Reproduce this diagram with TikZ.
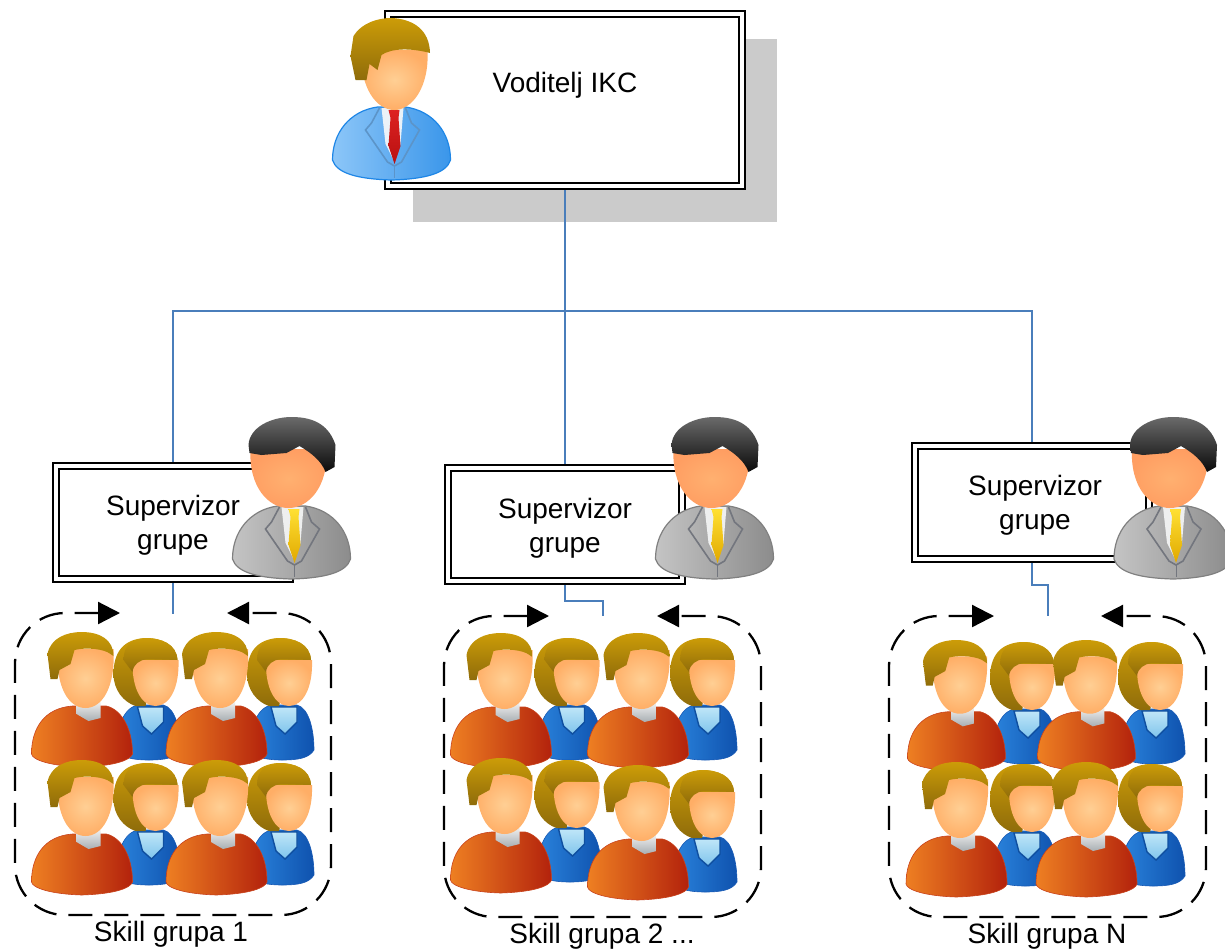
\documentclass[tikz,border=0pt]{standalone}
\usepackage{fontspec}
\setmainfont{Liberation Sans}
\usetikzlibrary{arrows.meta}
\definecolor{linkblue}{HTML}{4A7EBB}
\definecolor{shadowgray}{HTML}{CBCBCB}
\definecolor{hairA}{HTML}{CC9C08}
\definecolor{hairB}{HTML}{8F6C0A}
\definecolor{skinA}{HTML}{FFCF94}
\definecolor{skinB}{HTML}{FFAE66}
\definecolor{manL}{HTML}{EE7F22}
\definecolor{manM}{HTML}{D9561A}
\definecolor{manR}{HTML}{B3220C}
\definecolor{manE}{HTML}{C8421C}
\definecolor{collarT}{HTML}{EEEEEE}
\definecolor{collarB}{HTML}{A8AEB2}
\definecolor{womL}{HTML}{2A83DC}
\definecolor{womR}{HTML}{0F52AE}
\definecolor{womE}{HTML}{1658B4}
\definecolor{vT}{HTML}{BFE6F8}
\definecolor{vB}{HTML}{7FC4EC}
\definecolor{vE}{HTML}{0F4FA0}
\definecolor{bossL}{HTML}{8CC6F8}
\definecolor{bossR}{HTML}{3A96EA}
\definecolor{bossE}{HTML}{1E86E6}
\definecolor{bossLap}{HTML}{5C94C8}
\definecolor{tieRT}{HTML}{DD2222}
\definecolor{tieRB}{HTML}{B81010}
\definecolor{supL}{HTML}{C4C4C4}
\definecolor{supR}{HTML}{8C8C8C}
\definecolor{supE}{HTML}{808080}
\definecolor{supLap}{HTML}{73767E}
\definecolor{tieYT}{HTML}{FFE033}
\definecolor{tieYB}{HTML}{E0A800}
\definecolor{supSkinA}{HTML}{FFB070}
\definecolor{supSkinB}{HTML}{FF9E62}
\definecolor{supHT}{HTML}{6A6A6A}
\definecolor{supHB}{HTML}{0A0A0A}
\tikzset{
  dblbox/.style={draw=black,double=white,line width=1.9pt,double distance=3.9pt,outer sep=3.85pt,inner sep=0pt,rectangle},
  lbl/.style={font=\fontsize{28}{34}\selectfont,align=center,inner sep=0pt,text=black},
  link/.style={draw=linkblue,line width=2.4pt},
  teamloop/.style={draw=black,line width=2.3pt,dash pattern=on 24pt off 12pt,rounded corners=50pt,
     {Triangle[length=22pt,width=22pt]}-{Triangle[length=22pt,width=22pt]}},
}
% man: #1 x centre of hair, #2 y top, #3 scale
\newcommand{\manfig}[3]{\begin{scope}[shift={(#1,#2)},scale=#3]
  \shade[left color=manL,middle color=manM,right color=manR,draw=manE,line width=.6pt]
    (-49,122) .. controls (-49,96) and (-36,76) .. (-8,74) -- (26,74)
    .. controls (42,78) and (52,98) .. (52,122)
    .. controls (50,128) and (35,134) .. (1,135) .. controls (-30,134) and (-48,128) .. (-49,122) -- cycle;
  \shade[top color=collarT,bottom color=collarB] (-4,70) -- (20,70) -- (20,86) -- (8,89) -- (-4,82) -- cycle;
  \shade[shading=radial,inner color=skinA,outer color=skinB]
    (-23,17) -- (33,17) .. controls (35,55) and (22,76) .. (5,76) .. controls (-12,76) and (-25,55) .. (-23,17) -- cycle;
  \shade[top color=hairA,bottom color=hairB]
    (-30,47) -- (-33,22) .. controls (-30,6) and (-14,0) .. (1,0) .. controls (20,0) and (33,8) .. (33,24)
    -- (30,22) .. controls (24,17) and (6,15) .. (-6,18) -- (-10,32) -- (-21,38) -- (-23,47) -- cycle;
\end{scope}}
% woman
\newcommand{\womanfig}[3]{\begin{scope}[shift={(#1,#2)},scale=#3]
  \shade[left color=womL,right color=womR,draw=womE,line width=.6pt]
    (-29,112) .. controls (-29,90) and (-22,68) .. (-6,67) -- (18,67)
    .. controls (30,70) and (35,92) .. (35,112) .. controls (30,120) and (20,122) .. (3,122)
    .. controls (-15,122) and (-28,118) .. (-29,112) -- cycle;
  \shade[top color=vT,bottom color=vB,draw=vE,line width=1.4pt]
    (-8,69) -- (18,69) -- (18,84) -- (6,96) -- (-3,88) -- cycle;
  \shade[top color=hairA,bottom color=hairB]
    (32,22) .. controls (31,6) and (16,0) .. (0,0) .. controls (-22,1) and (-32,14) .. (-32,36)
    .. controls (-32,52) and (-22,64) .. (-10,68) -- (0,68) -- (10,30) -- cycle;
  \shade[shading=radial,inner color=skinA,outer color=skinB]
    (-13,22) -- (33,22) .. controls (34,50) and (24,68) .. (10,68) .. controls (-4,68) and (-14,50) .. (-13,22) -- cycle;
  \shade[top color=hairA,bottom color=hairB]
    (32,22) .. controls (31,6) and (16,0) .. (0,0) .. controls (-14,1) and (-22,8) .. (-22,22)
    -- (-13,34) .. controls (-12,26) and (-6,22) .. (2,21) -- cycle;
\end{scope}}
% common suit: #1 left, #2 right, #3 edge, #4 lapel, #5 tie top, #6 tie bottom
\newcommand{\suitbody}[6]{%
  \shade[left color=#1,right color=#2,draw=#3,line width=1.2pt]
    (-59,142) .. controls (-59,115) and (-42,93) .. (-14,89) -- (14,89)
    .. controls (42,93) and (59,115) .. (59,142)
    .. controls (55,155) and (35,161) .. (0,162) .. controls (-35,161) and (-55,155) .. (-59,142) -- cycle;
  \fill[white!88!#4] (-10,90) -- (12,90) -- (9,126) -- (2,142) -- (-6,126) -- cycle;
  \draw[#4,line width=1.6pt] (-12,90) -- (-20,105) -- (-26,112) -- (-4,144) -- (3,148) -- (10,144) -- (28,112) -- (20,105) -- (14,90);
  \draw[#4,line width=1pt] (3,148) -- (3,160);
  \shade[top color=#5,bottom color=#6] (-3,92) -- (8,92) -- (7,100) -- (9,128) -- (3,146) -- (-3,128) -- (-1,100) -- cycle;
}
\newcommand{\bossfig}[2]{\begin{scope}[shift={(#1,#2)}]
  \suitbody{bossL}{bossR}{bossE}{bossLap}{tieRT}{tieRB}
  \shade[shading=radial,inner color=skinA,outer color=skinB]
    (-30,32) -- (36,32) .. controls (38,70) and (20,92) .. (3,92) .. controls (-15,92) and (-32,70) .. (-30,32) -- cycle;
  \shade[top color=hairA,bottom color=hairB]
    (-36,62) -- (-41,38) -- (-38,18) .. controls (-30,5) and (-14,0) .. (0,0) .. controls (22,1) and (38,12) .. (38.5,35)
    .. controls (20,30) and (0,30) .. (-10,37) -- (-14,52) -- (-22,46) -- (-25,62) -- cycle;
\end{scope}}
\newcommand{\supfig}[2]{\begin{scope}[shift={(#1,#2)}]
  \suitbody{supL}{supR}{supE}{supLap}{tieYT}{tieYB}
  \shade[shading=radial,inner color=supSkinA,outer color=supSkinB]
    (-41,32) -- (35,32) .. controls (37,70) and (17,91) .. (-3,91) .. controls (-23,91) and (-43,70) .. (-41,32) -- cycle;
  \shade[top color=supHT,bottom color=supHB]
    (-43,28) .. controls (-42,10) and (-20,0) .. (0,0) .. controls (25,0) and (38,10) .. (44,28)
    -- (43,50) -- (34,55) .. controls (30,44) and (20,36) .. (8,29) -- (-5,36) -- (-30,38) -- (-42,36) -- cycle;
\end{scope}}
\begin{document}
\begin{tikzpicture}[x=1pt,y=-1pt]
\useasboundingbox (0,0) rectangle (1225,950);
\fill[shadowgray] (413,39) rectangle (777,222);
\node[dblbox,fill=white,minimum width=354.3pt,minimum height=172.3pt] (boss) at (565,100) {};
\node[dblbox,fill=white,minimum width=234.3pt,minimum height=113.3pt] (sup1) at (173,522.5) {};
\node[dblbox,fill=white,minimum width=234.3pt,minimum height=113.3pt] (sup2) at (565,524.5) {};
\node[dblbox,fill=white,minimum width=234.3pt,minimum height=113.3pt] (sup3) at (1032,502.5) {};
\coordinate (hub) at (565,311);
\coordinate (in1) at (173,614);
\coordinate (in2) at (603,616);
\coordinate (in3) at (1048,616);
\coordinate (bend2) at (565,601);
\coordinate (bend3) at (1032,585);
\draw[link] (boss.south) -- (sup2.north);
\draw[link] (hub) -| (sup1.north);
\draw[link] (hub) -| (sup3.north);
\draw[link] (sup1.south) -- (in1);
\draw[link] (sup2.south) -- (bend2) -| (in2);
\draw[link] (sup3.south) -- (bend3) -| (in3);
% team loops
\coordinate (g1a) at (120,613); \coordinate (g1b) at (227,613);
\coordinate (g2a) at (549,616); \coordinate (g2b) at (657,616);
\coordinate (g3a) at (994,616); \coordinate (g3b) at (1101,616);
\draw[teamloop] (g1a) -- (15,613) -- (15,915) -- (331,915) -- (331,613) -- (g1b);
\draw[teamloop] (g2a) -- (444,616) -- (444,917) -- (761,917) -- (761,616) -- (g2b);
\draw[teamloop] (g3a) -- (889,616) -- (889,917) -- (1206,917) -- (1206,616) -- (g3b);
% group 1
\womanfig{145.5}{638}{1}\womanfig{279}{638}{1}
\manfig{80.5}{632}{1}\manfig{215}{632}{1}
\womanfig{145.5}{763}{1}\womanfig{279}{763}{1}
\manfig{80.5}{760}{1}\manfig{215}{760}{1}
% group 2
\womanfig{566.5}{638}{1}\womanfig{702}{638}{1}
\manfig{499.5}{633}{1}\manfig{636.5}{633}{1}
\womanfig{566.5}{760}{1}\womanfig{702}{770}{1}
\manfig{499.5}{758}{1}\manfig{636.5}{765}{1}
% group 3
\womanfig{1022}{642}{1}\womanfig{1150}{642}{1}
\manfig{955}{640}{.97}\manfig{1085}{640}{.97}
\womanfig{1022}{764}{1}\womanfig{1150}{764}{1}
\manfig{955}{762}{1}\manfig{1085}{762}{1}
% heads
\bossfig{391.5}{18}
\supfig{291.5}{417}
\supfig{714.5}{417}
\supfig{1173}{417}
% labels
\node[lbl] (t0) at (565,85.5) {Voditelj IKC};
\node[lbl] (t1) at (173,525) {Supervizor\\grupe};
\node[lbl] (t2) at (565,528) {Supervizor\\grupe};
\node[lbl] (t3) at (1035,505) {Supervizor\\grupe};
\node[lbl] (s1) at (171,934) {Skill grupa 1};
\node[lbl] (s2) at (602,936) {Skill grupa 2 ...};
\node[lbl] (s3) at (1047,936) {Skill grupa N};
\end{tikzpicture}
\end{document}
